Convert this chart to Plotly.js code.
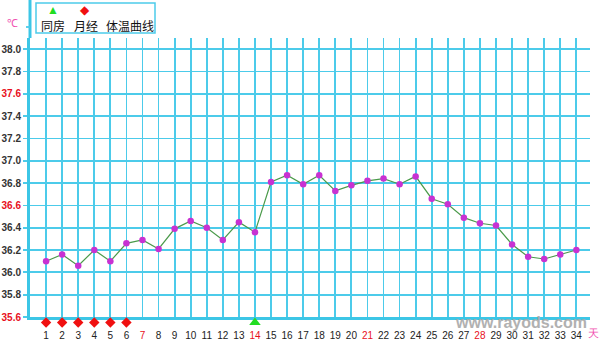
<!DOCTYPE html>
<html>
<head>
<meta charset="utf-8">
<script src="https://cdn.plot.ly/plotly-3.0.1.min.js"></script>
<style>
html,body{margin:0;padding:0;background:#fff;}
#chart{width:600px;height:341px;}
</style>
</head>
<body>
<div id="chart"></div>
<script>
// ---- data ----
const days = [1,2,3,4,5,6,7,8,9,10,11,12,13,14,15,16,17,18,19,20,21,22,23,24,25,26,27,28,29,30,31,32,33,34];
const temps = [36.10,36.16,36.06,36.20,36.10,36.26,36.29,36.21,36.39,36.46,36.40,36.29,36.45,36.36,
               36.81,36.87,36.79,36.87,36.73,36.78,36.82,36.84,36.79,36.86,
               36.66,36.61,36.49,36.44,36.42,36.25,36.14,36.12,36.16,36.20];
const mensesDays = [1,2,3,4,5,6];
const intercourseDays = [14];
const redDayLabels = [7,14,21,28];
const yTickValues = [35.6,35.8,36.0,36.2,36.4,36.6,36.8,37.0,37.2,37.4,37.6,37.8,38.0];
const yTickLabels = ['35.6','35.8','36.0','36.2','36.4','36.6','36.8','37.0','37.2','37.4','37.6','37.8','38.0'];
const redYLabels = ['35.6','36.6','37.6'];
const legendLabels = ['同房','月经','体温曲线'];
const unitY = '℃';
const unitX = '天';
const watermark = 'www.rayods.com';

// ---- styles / geometry ----
const CYAN = '#4ccbea';
const AXIS = '#3cc6e6';
const RED = '#e8101c';
const PINK = '#f050b0';
const W = 600, H = 341;
const L = 30, R = 10, T = 38, B = 13;
const pw = W - L - R, ph = H - T - B;
const axisBottomPx = 317;
const px = x => (x - L) / pw;
const py = y => (H - B - y) / ph;
const mainBottom = py(axisBottomPx);

const traces = [
  {
    x: days, y: temps, type: 'scatter', mode: 'lines+markers',
    xaxis: 'x', yaxis: 'y',
    line: {color: '#4a9a4a', width: 1.2},
    marker: {color: '#c832d2', size: 6.5, line: {width: 0}},
    hoverinfo: 'skip'
  },
  {
    x: mensesDays, y: mensesDays.map(() => 0), type: 'scatter', mode: 'markers',
    xaxis: 'x2', yaxis: 'y2',
    marker: {symbol: 'diamond', color: '#f01010', size: 8},
    cliponaxis: false, hoverinfo: 'skip'
  },
  {
    x: intercourseDays, y: intercourseDays.map(() => 0), type: 'scatter', mode: 'markers',
    xaxis: 'x2', yaxis: 'y2',
    marker: {symbol: 'triangle-up', color: '#22dd22', size: 10},
    cliponaxis: false, hoverinfo: 'skip'
  }
];

const xTickText = days.map(d => redDayLabels.includes(d)
  ? '<span style="color:' + RED + '">' + d + '</span>' : String(d));
const yTickText = yTickLabels.map(t => redYLabels.includes(t)
  ? '<span style="color:' + RED + '">' + t + '</span>' : t);

const layout = {
  width: W, height: H,
  margin: {l: L, r: R, t: T, b: B, pad: 0},
  paper_bgcolor: '#fff', plot_bgcolor: 'rgba(0,0,0,0)',
  showlegend: false,
  font: {family: 'Arial, Liberation Sans, sans-serif'},
  xaxis: {
    anchor: 'y', range: [0, 34.85], fixedrange: true,
    tickmode: 'array', tickvals: days, showticklabels: false,
    showgrid: true, gridcolor: CYAN, gridwidth: 1.8,
    zeroline: false,
    showline: true, linecolor: AXIS, linewidth: 3,
    ticks: ''
  },
  yaxis: {
    anchor: 'x', domain: [mainBottom, 1],
    range: [35.6, 38.1], fixedrange: true,
    tickmode: 'array', tickvals: yTickValues, ticktext: yTickText,
    showgrid: true, gridcolor: CYAN, gridwidth: 1.8,
    zeroline: false,
    showline: true, linecolor: AXIS, linewidth: 3,
    ticks: 'outside', ticklen: 4, tickcolor: CYAN, tickwidth: 1.8,
    tickfont: {size: 10, color: '#333', weight: 'bold', family: 'Arial, Liberation Sans, sans-serif'}
  },
  xaxis2: {
    anchor: 'y2', range: [0, 34.85], fixedrange: true,
    tickmode: 'array', tickvals: days, ticktext: xTickText,
    showgrid: false, zeroline: false, showline: false,
    ticks: '', ticklabelstandoff: 0,
    tickfont: {size: 10, color: '#222', family: 'Arial, Liberation Sans, sans-serif'}
  },
  yaxis2: {
    anchor: 'x2', domain: [0, mainBottom], range: [-1, 1], fixedrange: true,
    showgrid: false, zeroline: false, showline: false, showticklabels: false, ticks: ''
  },
  shapes: [
    {type: 'line', xref: 'paper', yref: 'paper', x0: 0, x1: 0, y0: 1, y1: py(0),
     line: {color: AXIS, width: 3}},
    {type: 'line', xref: 'paper', yref: 'paper', x0: px(26), x1: px(30), y0: py(27), y1: py(27),
     line: {color: CYAN, width: 1.8}},
    {type: 'rect', xref: 'paper', yref: 'paper', x0: px(36), x1: px(155), y0: py(33), y1: py(3),
     line: {color: CYAN, width: 1.5}, fillcolor: '#fff'}
  ],
  annotations: [
    {text: unitY, xref: 'paper', yref: 'paper', x: px(12), y: py(23), showarrow: false,
     font: {size: 11, color: PINK}, xanchor: 'center', yanchor: 'middle'},
    {text: unitX, xref: 'paper', yref: 'paper', x: px(593), y: py(333), showarrow: false,
     font: {size: 11, color: PINK}, xanchor: 'center', yanchor: 'middle'},
    {text: '▲', xref: 'paper', yref: 'paper', x: px(53), y: py(10), showarrow: false,
     font: {size: 12, color: '#22dd22'}, xanchor: 'center', yanchor: 'middle'},
    {text: '◆', xref: 'paper', yref: 'paper', x: px(85), y: py(10), showarrow: false,
     font: {size: 12, color: '#f01010'}, xanchor: 'center', yanchor: 'middle'},
    {text: legendLabels[0], xref: 'paper', yref: 'paper', x: px(53), y: py(26), showarrow: false,
     font: {size: 12, color: '#111', family: 'Noto Sans CJK SC'}, xanchor: 'center', yanchor: 'middle'},
    {text: legendLabels[1], xref: 'paper', yref: 'paper', x: px(86), y: py(26), showarrow: false,
     font: {size: 12, color: '#111', family: 'Noto Sans CJK SC'}, xanchor: 'center', yanchor: 'middle'},
    {text: legendLabels[2], xref: 'paper', yref: 'paper', x: px(130), y: py(26), showarrow: false,
     font: {size: 12, color: '#111', family: 'Noto Sans CJK SC'}, xanchor: 'center', yanchor: 'middle'},
    {text: watermark, xref: 'paper', yref: 'paper', x: px(521), y: py(322), showarrow: false,
     font: {size: 16, color: '#a9a9a9', weight: 'bold', family: 'Arial, Liberation Sans, sans-serif'},
     xanchor: 'center', yanchor: 'middle', opacity: 0.9}
  ]
};

Plotly.newPlot('chart', traces, layout, {staticPlot: true, displayModeBar: false});
</script>
</body>
</html>
